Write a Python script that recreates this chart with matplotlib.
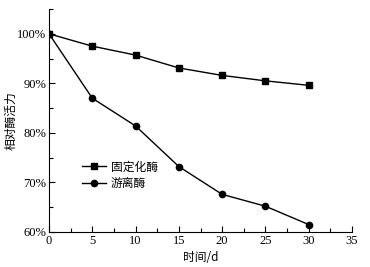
import matplotlib
matplotlib.use("Agg")
import matplotlib.pyplot as plt
from matplotlib.ticker import MultipleLocator, FuncFormatter

days = [0, 5, 10, 15, 20, 25, 30]
fixed_enzyme = [100, 97.5, 95.7, 93.1, 91.6, 90.5, 89.6]
free_enzyme = [100, 87.0, 81.4, 73.2, 67.6, 65.2, 61.5]
labels = ["固定化酶", "游离酶"]

plt.rcParams['font.family'] = ['Liberation Serif', 'Noto Sans CJK SC']
fig = plt.figure(figsize=(3.7, 2.67), dpi=100)
ax = fig.add_axes([49/370, 1-232/267, 303/370, 223/267])

ax.plot(days, fixed_enzyme, color='black', lw=1, marker='s', ms=4.5, label=labels[0])
ax.plot(days, free_enzyme, color='black', lw=1, marker='o', ms=4.5, label=labels[1])

ax.set_xlim(0, 35)
ax.set_ylim(60, 105)
ax.xaxis.set_major_locator(MultipleLocator(5))
ax.xaxis.set_minor_locator(MultipleLocator(2.5))
ax.yaxis.set_major_locator(MultipleLocator(10))
ax.yaxis.set_minor_locator(MultipleLocator(5))
ax.yaxis.set_major_formatter(FuncFormatter(lambda v, p: f"{int(v)}%"))
for s in ['top', 'right']:
    ax.spines[s].set_visible(False)
for s in ['left', 'bottom']:
    ax.spines[s].set_linewidth(0.8)
ax.tick_params(which='both', direction='in', labelsize=9, width=0.8, pad=2)
ax.tick_params(which='major', length=4)
ax.tick_params(which='minor', length=3)

ax.set_xlabel("时间/d", fontsize=8.5, family=['Noto Sans CJK SC', 'Liberation Serif'], labelpad=3)
ax.set_ylabel("相对酶活力", fontsize=8.5, family=['Noto Sans CJK SC'], labelpad=0)

leg = ax.legend(loc='center left', bbox_to_anchor=(0.09, 0.255), frameon=False,
                prop={'family': ['Noto Sans CJK SC'], 'size': 8.5},
                handlelength=2.0, handletextpad=0.4, labelspacing=0.3, borderpad=0)

fig.savefig("out.png", dpi=100)
